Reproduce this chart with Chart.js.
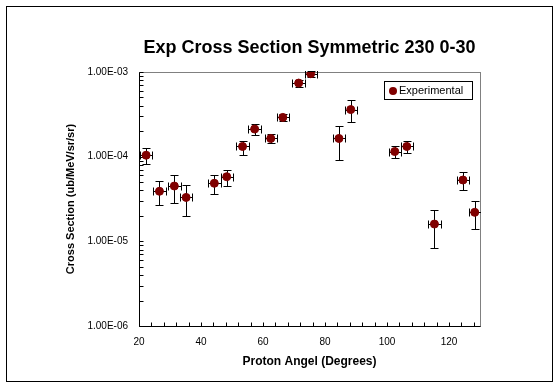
<!DOCTYPE html>
<html>
<head>
<meta charset="utf-8">
<script src="https://cdn.jsdelivr.net/npm/chart.js@4.4.0/dist/chart.umd.min.js"></script>
<style>
html, body { margin: 0; padding: 0; background: #fff; }
#wrap { width: 559px; height: 388px; }
</style>
</head>
<body>
<div id="wrap"><canvas id="chart"></canvas></div>
<script>
// proton angle (degrees) and measured cross section (ub/MeV/sr/sr)
var angles = [22.3, 26.6, 31.4, 35.2, 44.3, 48.3, 53.4, 57.3, 62.5, 66.4, 71.5, 75.4, 84.5, 88.3, 102.5, 106.4, 115.3, 124.5, 128.3];
var crossSection = [1.04e-4, 3.9e-5, 4.5e-5, 3.3e-5, 4.85e-5, 5.8e-5, 1.32e-4, 2.12e-4, 1.64e-4, 2.91e-4, 7.4e-4, 9.55e-4, 1.64e-4, 3.6e-4, 1.15e-4, 1.32e-4, 1.6e-5, 5.3e-5, 2.2e-5];
var errUpper = [1.27e-4, 5.1e-5, 6.05e-5, 4.6e-5, 6.05e-5, 7.05e-5, 1.53e-4, 2.43e-4, 1.85e-4, 3.19e-4, 8.1e-4, 1.04e-3, 2.3e-4, 4.67e-4, 1.33e-4, 1.53e-4, 2.33e-5, 6.55e-5, 2.98e-5];
var errLower = [8.2e-5, 2.67e-5, 2.85e-5, 1.98e-5, 3.6e-5, 4.53e-5, 1.04e-4, 1.8e-4, 1.45e-4, 2.63e-4, 6.65e-4, 8.73e-4, 9.1e-5, 2.56e-4, 9.6e-5, 1.1e-4, 8.3e-6, 4.03e-5, 1.39e-5];
var angleErr = [2, 2, 2, 2, 2, 2, 2, 2, 2, 2, 2, 2, 2, 2, 2, 2, 2, 2, 2];

var xTicks = [20, 40, 60, 80, 100, 120];
var yTicks = [1e-6, 1e-5, 1e-4, 1e-3];

var FONT = "'Liberation Sans', Arial, sans-serif";

function sciLabel(v) {
    var e = Math.round(Math.log10(v));
    var s = Math.abs(e) < 10 ? '0' + Math.abs(e) : '' + Math.abs(e);
    return '1.00E' + (e < 0 ? '-' : '+') + s;
}

var framePlugin = {
    id: 'frame',
    beforeDraw: function (chart) {
        var c = chart.ctx;
        c.save();
        c.fillStyle = '#fff';
        c.fillRect(0, 0, chart.width, chart.height);
        c.strokeStyle = '#000';
        c.lineWidth = 1;
        c.strokeRect(6.5, 6.5, 546, 375);
        c.restore();
    },
    beforeDatasetsDraw: function (chart) {
        var c = chart.ctx, a = chart.chartArea;
        var xs = chart.scales.x, ys = chart.scales.y;
        var L = Math.round(a.left) + 0.5, R = Math.round(a.right) + 0.5;
        var T = Math.round(a.top) + 0.5, B = Math.round(a.bottom) + 0.5;
        c.save();
        c.lineWidth = 1;
        c.strokeStyle = '#808080';
        c.strokeRect(L, T, R - L, B - T);
        c.strokeStyle = '#000';
        c.beginPath();
        c.moveTo(L, T); c.lineTo(L, B); c.lineTo(R, B);
        // y ticks (log, 1..9 per decade)
        for (var d = -6; d < -3; d++) {
            for (var m = 1; m <= 9; m++) {
                var py = Math.round(ys.getPixelForValue(m * Math.pow(10, d))) + 0.5;
                c.moveTo(L, py); c.lineTo(L + 4, py);
            }
        }
        var pt = Math.round(ys.getPixelForValue(1e-3)) + 0.5;
        c.moveTo(L, pt); c.lineTo(L + 4, pt);
        // x ticks
        for (var v = 20; v <= 130; v += 4) {
            var px = Math.round(xs.getPixelForValue(v)) + 0.5;
            c.moveTo(px, B); c.lineTo(px, B - 4);
        }
        c.stroke();

        // error bars
        c.save();
        c.beginPath();
        c.rect(a.left, a.top - 1, a.right - a.left + 1, a.bottom - a.top + 2);
        c.clip();
        c.beginPath();
        for (var i = 0; i < angles.length; i++) {
            var x = Math.round(xs.getPixelForValue(angles[i])) + 0.5;
            var y = Math.round(ys.getPixelForValue(crossSection[i])) + 0.5;
            var yt = Math.round(ys.getPixelForValue(errUpper[i])) + 0.5;
            var yb = Math.round(ys.getPixelForValue(errLower[i])) + 0.5;
            var xl = Math.round(xs.getPixelForValue(angles[i] - angleErr[i])) + 0.5;
            var xr = Math.round(xs.getPixelForValue(angles[i] + angleErr[i])) + 0.5;
            c.moveTo(x, yt); c.lineTo(x, yb);
            c.moveTo(x - 4, yt); c.lineTo(x + 4, yt);
            c.moveTo(x - 4, yb); c.lineTo(x + 4, yb);
            c.moveTo(xl, y); c.lineTo(xr, y);
            c.moveTo(xl, y - 4); c.lineTo(xl, y + 4);
            c.moveTo(xr, y - 4); c.lineTo(xr, y + 4);
        }
        c.stroke();
        c.restore();
        c.restore();
    },
    afterDraw: function (chart) {
        // legend box
        var c = chart.ctx;
        c.save();
        c.fillStyle = '#fff';
        c.fillRect(385, 82, 88, 17);
        c.strokeStyle = '#000';
        c.lineWidth = 1;
        c.strokeRect(384.5, 81.5, 88, 18);
        c.fillStyle = '#800000';
        c.beginPath();
        c.arc(393, 91, 4, 0, Math.PI * 2);
        c.fill();
        c.fillStyle = '#000';
        c.font = '11px ' + FONT;
        c.textBaseline = 'middle';
        c.fillText('Experimental', 399, 91);
        c.restore();
    }
};

new Chart(document.getElementById('chart'), {
    type: 'scatter',
    data: {
        datasets: [{
            label: 'Experimental',
            data: angles.map(function (a, i) { return { x: a, y: crossSection[i] }; }),
            backgroundColor: '#800000',
            borderColor: '#800000',
            borderWidth: 1,
            pointRadius: 4,
            pointHoverRadius: 4
        }]
    },
    options: {
        responsive: true,
        maintainAspectRatio: false,
        animation: false,
        layout: { padding: { left: 0, right: 79, top: 0, bottom: 0 } },
        plugins: {
            legend: { display: false },
            tooltip: { enabled: false },
            title: {
                display: true,
                fullSize: false,
                text: 'Exp Cross Section Symmetric 230 0-30',
                color: '#000',
                font: { family: FONT, size: 18, weight: 'bold' },
                padding: { top: 37.2, bottom: 13.2 }
            }
        },
        scales: {
            x: {
                type: 'linear',
                min: 20,
                max: 130,
                afterBuildTicks: function (s) { s.ticks = xTicks.map(function (v) { return { value: v }; }); },
                afterFit: function (s) { s.height = 62; },
                grid: { display: false, drawTicks: false },
                border: { display: false },
                ticks: { color: '#000', font: { family: FONT, size: 10 }, padding: 10, maxRotation: 0 },
                title: {
                    display: true,
                    text: 'Proton Angel (Degrees)',
                    color: '#000',
                    font: { family: FONT, size: 12, weight: 'bold' },
                    padding: { top: 0, bottom: 18.8 }
                }
            },
            y: {
                type: 'logarithmic',
                min: 1e-6,
                max: 1e-3,
                afterBuildTicks: function (s) { s.ticks = yTicks.map(function (v) { return { value: v, major: true }; }); },
                afterFit: function (s) { s.width = 139; },
                grid: { display: false, drawTicks: false },
                border: { display: false },
                ticks: {
                    color: '#000',
                    font: { family: FONT, size: 10 },
                    padding: 11,
                    callback: function (v) { return sciLabel(v); }
                },
                title: {
                    display: true,
                    text: 'Cross Section (ub/MeV/sr/sr)',
                    color: '#000',
                    font: { family: FONT, size: 11, weight: 'bold' },
                    padding: { top: 64.4, bottom: 0 }
                }
            }
        }
    },
    plugins: [framePlugin]
});
</script>
</body>
</html>
